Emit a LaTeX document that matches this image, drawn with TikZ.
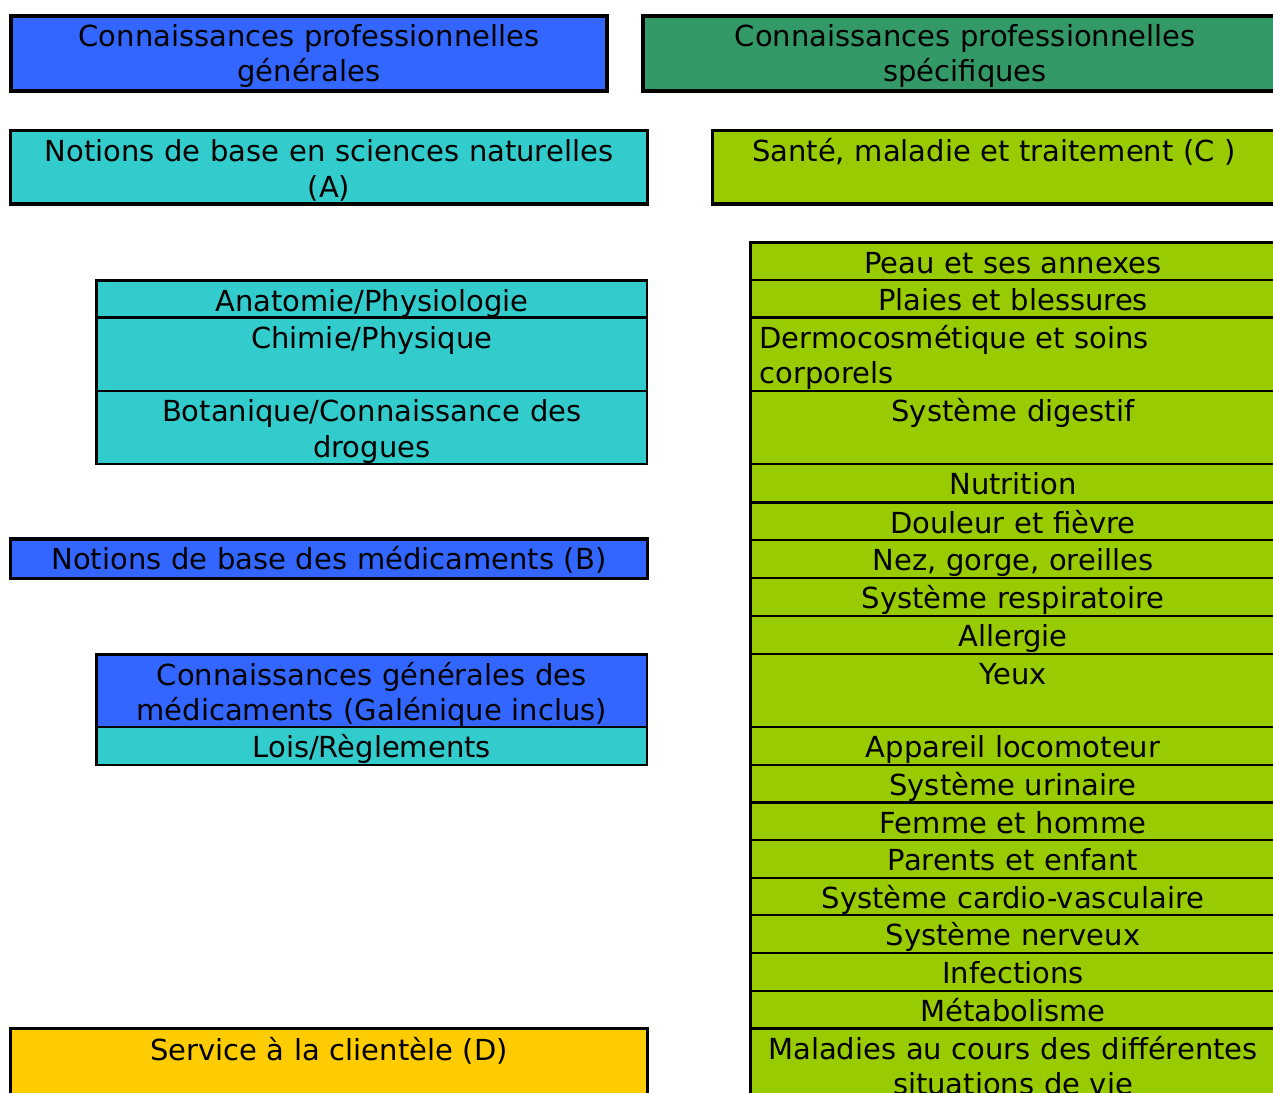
\documentclass[tikz,border=0pt]{standalone}
\usepackage{fontspec}
\setmainfont{DejaVu Sans}
\usepackage{tikz}
\usetikzlibrary{positioning}
\definecolor{GenBlue}{HTML}{3366FF}
\definecolor{SpecGreen}{HTML}{339966}
\definecolor{SciCyan}{HTML}{33CCCC}
\definecolor{HealthGreen}{HTML}{99CC00}
\definecolor{ServiceGold}{HTML}{FFCC00}

\begin{document}
\begin{tikzpicture}[x=1pt,y=-1pt]
    \tikzset{BoxStyle/.style = {draw=black, line width=3.3pt, inner sep=0, outer sep=0, anchor=north west, align=center, text height=31pt, font=\fontsize{29}{35.7}\selectfont}}
    \tikzset{CellStyle/.style = {BoxStyle, line width=2.8pt, text height=30.5pt, text depth=7.5pt}}
    \tikzset{RightCell/.style = {CellStyle, fill=HealthGreen, text width=525pt}}
    \tikzset{LeftCell/.style = {CellStyle, text width=550.5pt}}
    \useasboundingbox (0,0) rectangle (1273,1092);

    % headings
    \node[BoxStyle, fill=GenBlue, line width=3.8pt, text height=30pt, text width=596pt, text depth=44.7pt] at (11,16) (gen) {Connaissances professionnelles\\générales};
    \node[BoxStyle, fill=SpecGreen, line width=3.8pt, text height=30pt, text width=645pt, text depth=44.7pt] at (642.6,16) (spec) {Connaissances professionnelles\\spécifiques};

    % left column
    \node[BoxStyle, fill=SciCyan, text width=636.7pt, text depth=42.3pt] at (10.6,130.7) (sciA) {Notions de base en sciences naturelles\\(A)};
    \node[LeftCell, fill=SciCyan] at (96.5,280.5) (anat) {Anatomie/Physiologie};
    \node[LeftCell, fill=SciCyan, text depth=43pt] at (96.5,317.5) (chim) {Chimie/Physique};
    \node[LeftCell, fill=SciCyan, text depth=42.5pt] at (96.5,391) (bota) {Botanique/Connaissance des\\drogues};
    \node[BoxStyle, fill=GenBlue, text width=636.7pt, text height=30.5pt, text depth=9pt] at (10.6,539) (medB) {Notions de base des médicaments (B)};
    \node[LeftCell, fill=GenBlue, text depth=42pt] at (96.5,654.5) (galen) {Connaissances générales des\\médicaments (Galénique inclus)};
    \node[LeftCell, fill=SciCyan] at (96.5,727) (lois) {Lois/Règlements};
    \node[BoxStyle, fill=ServiceGold, text width=636.7pt, text height=31.5pt, text depth=60pt] at (10.6,1028.5) (servD) {Service à la clientèle (D)};

    % right column
    \node[BoxStyle, fill=HealthGreen, text width=563pt, text depth=42.3pt] at (712.5,130.7) (santeC) {Santé, maladie et traitement (C )};
    \node[RightCell] at (750.5,242.5) (peau) {Peau et ses annexes};
    \node[RightCell] at (750.5,280) (plaies) {Plaies et blessures};
    \node[RightCell, align=left, text width=507pt, inner xsep=9pt, text depth=43pt] at (750.5,317.5) (dermo) {Dermocosmétique et soins\\corporels};
    \node[RightCell, text depth=42.5pt] at (750.5,391) (digest) {Système digestif};
    \node[RightCell] at (750.5,464) (nutri) {Nutrition};
    \node[RightCell] at (750.5,502.5) (douleur) {Douleur et fièvre};
    \node[RightCell] at (750.5,540) (nez) {Nez, gorge, oreilles};
    \node[RightCell] at (750.5,578) (respi) {Système respiratoire};
    \node[RightCell] at (750.5,616) (allergie) {Allergie};
    \node[RightCell, text depth=42.5pt] at (750.5,654) (yeux) {Yeux};
    \node[RightCell] at (750.5,727) (loco) {Appareil locomoteur};
    \node[RightCell] at (750.5,765) (urin) {Système urinaire};
    \node[RightCell] at (750.5,802.5) (femme) {Femme et homme};
    \node[RightCell] at (750.5,840) (parents) {Parents et enfant};
    \node[RightCell] at (750.5,878) (cardio) {Système cardio-vasculaire};
    \node[RightCell] at (750.5,915) (nerv) {Système nerveux};
    \node[RightCell] at (750.5,953) (infect) {Infections};
    \node[RightCell] at (750.5,991) (metab) {Métabolisme};
    \node[RightCell, text depth=60pt] at (750.5,1028.5) (maladies) {Maladies au cours des différentes\\situations de vie};
\end{tikzpicture}
\end{document}
